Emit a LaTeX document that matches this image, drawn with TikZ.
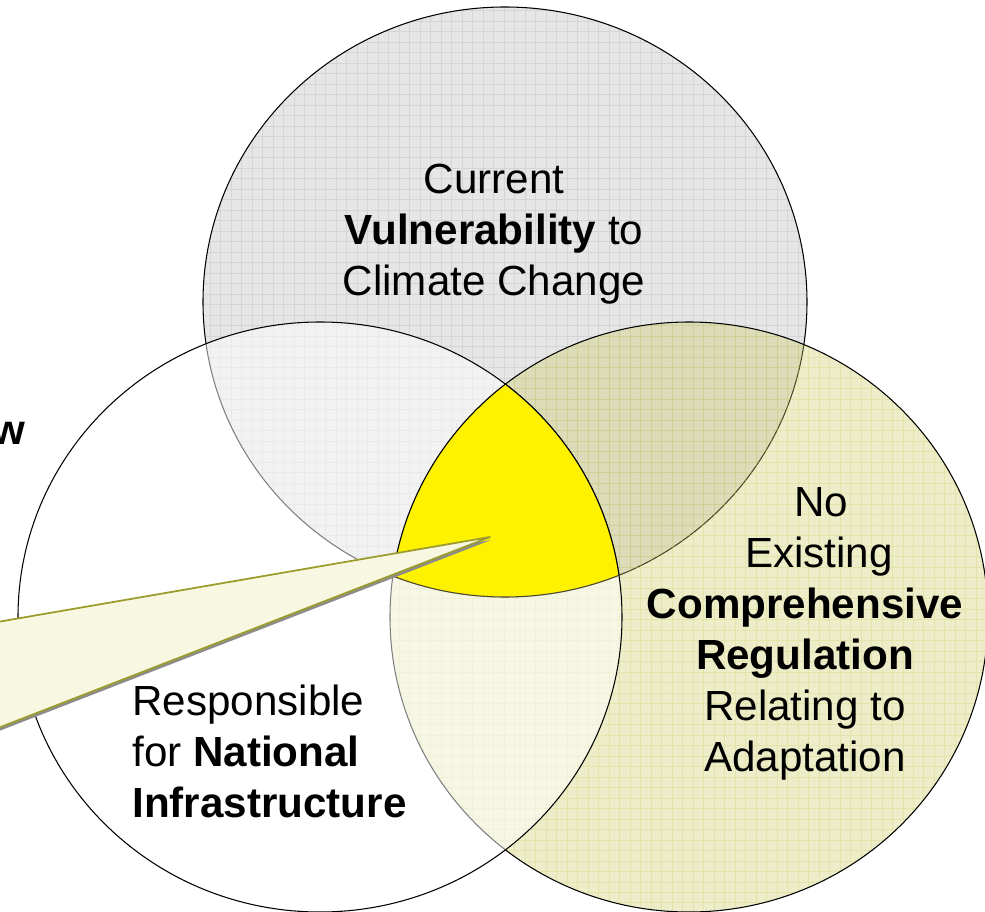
\documentclass[tikz,border=0pt]{standalone}
\usepackage{fontspec}
\setmainfont{Liberation Sans}

\definecolor{vulngray}{HTML}{E6E6E6}
\definecolor{gridgray}{HTML}{D5D5D5}
\definecolor{regulolive}{HTML}{CCCC66}
\definecolor{calloutfill}{HTML}{F8F8E2}
\definecolor{calloutedge}{HTML}{9C9C2C}

\newcommand{\vulnset}{(vuln) ellipse [x radius=302, y radius=295]}
\newcommand{\infraset}{(infra) ellipse [x radius=302, y radius=295]}
\newcommand{\regulset}{(regul) ellipse [x radius=299, y radius=295]}

\begin{document}
\begin{tikzpicture}[x=0.02cm, y=-0.02cm]
        \tikzstyle{label}=[font=\fontsize{24}{29}\selectfont, align=center, inner sep=0pt]
        \tikzstyle{rim}=[draw=black, line width=0.6pt]
        \tikzstyle{texture}=[step=0.21cm, line width=0.4pt]
        \useasboundingbox [fill=white] (0,0) rectangle (985,912);
        \coordinate (vuln) at (505,302);
        \coordinate (infra) at (320,617);
        \coordinate (regul) at (689,617);
        % the three sets
        \fill [vulngray] \vulnset;
        \begin{scope}
          \clip \vulnset;
          \draw [texture, gridgray] (200,600) grid (810,0);
        \end{scope}
        \draw [rim] \vulnset;
        \fill [regulolive, fill opacity=0.35] \regulset;
        \begin{scope}
          \clip \regulset;
          \draw [texture, regulolive, draw opacity=0.3] (385,915) grid (990,320);
        \end{scope}
        \draw [rim] \regulset;
        \filldraw [rim, fill=white, fill opacity=0.5] \infraset;
        % common part
        \begin{scope}
          \clip \vulnset;
          \clip \infraset;
          \fill [yellow] \regulset;
        \end{scope}
        \begin{scope}
          \clip \infraset;
          \clip \regulset;
          \draw [rim, draw=black!60!olive] \vulnset;
        \end{scope}
        \begin{scope}
          \clip \vulnset;
          \clip \regulset;
          \draw [rim] \infraset;
        \end{scope}
        \begin{scope}
          \clip \vulnset;
          \clip \infraset;
          \draw [rim] \regulset;
        \end{scope}
        % callout
        \coordinate (tip) at (490,537);
        \coordinate (calltop) at (-20,625);
        \coordinate (callbot) at (-20,735);
        \fill [black!45] ([shift={(1,3)}]calltop) -- ([shift={(1,3)}]tip) -- ([shift={(1,3)}]callbot) -- cycle;
        \filldraw [fill=calloutfill, draw=calloutedge, line width=1pt, line join=round]
          (calltop) -- (tip) -- (callbot) -- cycle;
        % texts
        \node [label] (vulntext) at (494,234) {Current\\\textbf{Vulnerability} to\\Climate Change};
        \node [label] (regultext) at (805,634) {\hspace*{0.64cm}No\\\hspace*{0.56cm}Existing\\\textbf{Comprehensive}\\\textbf{Regulation}\\Relating to\\Adaptation};
        \node [label, align=left, anchor=west] (infratext) at (132,751) {Responsible\\for \textbf{National}\\\textbf{Infrastructure}};
        \node [label, anchor=east] (cutword) at (26,433) {\textbf{w}};
      \end{tikzpicture}
\end{document}
